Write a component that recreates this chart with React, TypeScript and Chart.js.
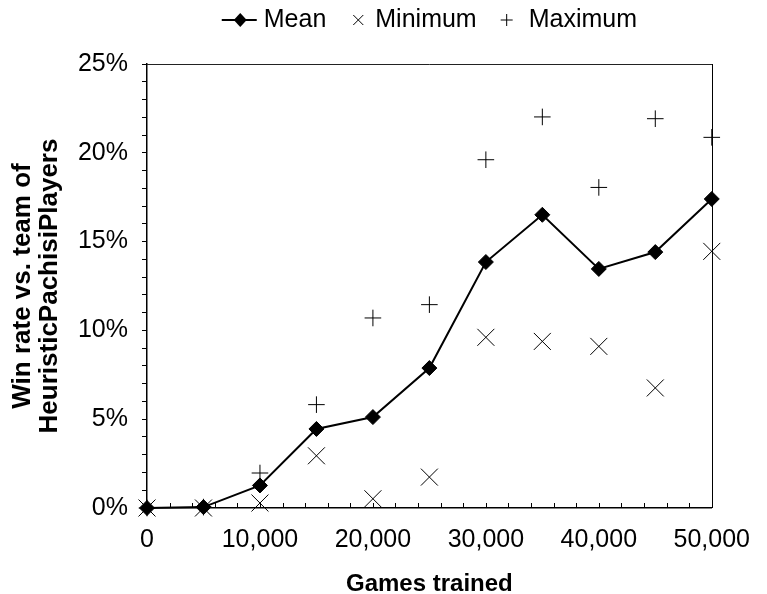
import React, { useEffect, useRef } from 'react';
import { Chart, registerables } from 'chart.js';

Chart.register(...registerables);

const FONT = "'Liberation Sans', Arial, Helvetica, sans-serif";

// ---- data ----
const gamesTrained = [0, 5000, 10000, 15000, 20000, 25000, 30000, 35000, 40000, 45000, 50000];
const meanRate = [0, 0.05, 1.27, 4.45, 5.12, 7.88, 13.85, 16.51, 13.46, 14.41, 17.4];
const minRate = [0, 0, 0.28, 2.94, 0.52, 1.74, 9.61, 9.38, 9.1, 6.76, 14.45];
const maxRate = [0, 0.05, 1.97, 5.82, 10.7, 11.45, 19.61, 22.02, 18.05, 21.92, 20.87];
const seriesNames = ['Mean', 'Minimum', 'Maximum'];
const xTickValues = [0, 10000, 20000, 30000, 40000, 50000];
const xTickLabels = ['0', '10,000', '20,000', '30,000', '40,000', '50,000'];
const yTickValues = [0, 5, 10, 15, 20, 25];
const yTickLabels = ['0%', '5%', '10%', '15%', '20%', '25%'];
const xAxisTitle = 'Games trained';
const yAxisTitle = ['Win rate vs. team of', 'HeuristicPachisiPlayers'];

const toPoints = (ys: number[]) => gamesTrained.map((x, i) => ({ x, y: ys[i] }));

const frameAndTicksPlugin = {
  id: 'frameAndTicks',
  beforeDatasetsDraw(chart: any) {
    const { ctx, chartArea: a, scales } = chart;
    ctx.save();
    ctx.lineWidth = 1;
    ctx.strokeStyle = '#222';
    ctx.beginPath();
    ctx.moveTo(a.left, Math.round(a.top) + 0.5);
    ctx.lineTo(Math.round(a.right) + 0.5, Math.round(a.top) + 0.5);
    ctx.stroke();
    ctx.strokeStyle = '#000';
    ctx.beginPath();
    ctx.moveTo(Math.round(a.right) + 0.5, Math.round(a.top));
    ctx.lineTo(Math.round(a.right) + 0.5, a.bottom);
    ctx.stroke();
    // inward x ticks
    const xs = scales.x;
    ctx.beginPath();
    xs.ticks.forEach((t: any) => {
      const px = Math.round(xs.getPixelForValue(t.value)) + 0.5;
      ctx.moveTo(px, a.bottom);
      ctx.lineTo(px, a.bottom - 5);
    });
    ctx.stroke();
    ctx.restore();
  },
};

const legendPlugin = {
  id: 'customLegend',
  afterDraw(chart: any) {
    const { ctx, chartArea: a } = chart;
    ctx.save();
    ctx.font = `25px ${FONT}`;
    ctx.textBaseline = 'middle';
    ctx.fillStyle = '#000';
    ctx.strokeStyle = '#000';
    const y = 20;
    const wMean = ctx.measureText(seriesNames[0]).width;
    const wMin = ctx.measureText(seriesNames[1]).width;
    const wMax = ctx.measureText(seriesNames[2]).width;
    const total = 35 + 7 + wMean + 27 + 10 + 12 + wMin + 24 + 12 + 16 + wMax;
    let x = (a.left + a.right) / 2 - total / 2;
    // Mean icon: line + diamond
    ctx.lineWidth = 2;
    ctx.beginPath();
    ctx.moveTo(x, y);
    ctx.lineTo(x + 35, y);
    ctx.stroke();
    const dx = x + 18.5;
    ctx.beginPath();
    ctx.moveTo(dx, y - 7);
    ctx.lineTo(dx + 6.5, y);
    ctx.lineTo(dx, y + 7);
    ctx.lineTo(dx - 6.5, y);
    ctx.closePath();
    ctx.fill();
    x += 35 + 7;
    ctx.fillText(seriesNames[0], x, y);
    x += wMean + 27;
    // Minimum icon: x
    ctx.lineWidth = 1;
    ctx.beginPath();
    ctx.moveTo(x, y - 5);
    ctx.lineTo(x + 10, y + 5);
    ctx.moveTo(x + 10, y - 5);
    ctx.lineTo(x, y + 5);
    ctx.stroke();
    x += 10 + 12;
    ctx.fillText(seriesNames[1], x, y);
    x += wMin + 24;
    // Maximum icon: +
    ctx.beginPath();
    ctx.moveTo(x, y);
    ctx.lineTo(x + 12, y);
    ctx.moveTo(x + 6, y - 6);
    ctx.lineTo(x + 6, y + 6);
    ctx.stroke();
    x += 12 + 16;
    ctx.fillText(seriesNames[2], x, y);
    ctx.restore();
  },
};

export default function App() {
  const canvasRef = useRef<HTMLCanvasElement | null>(null);

  useEffect(() => {
    const canvas = canvasRef.current;
    if (!canvas) return;
    const chart = new Chart(canvas, {
      type: 'line',
      data: {
        datasets: [
          {
            label: seriesNames[0],
            data: toPoints(meanRate),
            borderColor: '#000',
            backgroundColor: '#000',
            borderWidth: 2,
            pointStyle: 'rectRot',
            pointRadius: 7.5,
            pointBorderWidth: 1,
            pointBackgroundColor: '#000',
            pointBorderColor: '#000',
            tension: 0,
            clip: false,
          } as any,
          {
            label: seriesNames[1],
            data: toPoints(minRate),
            showLine: false,
            borderColor: '#000',
            backgroundColor: '#000',
            pointStyle: 'crossRot',
            pointRadius: 12,
            pointBorderWidth: 1,
            pointBorderColor: '#000',
            clip: false,
          } as any,
          {
            label: seriesNames[2],
            data: toPoints(maxRate),
            showLine: false,
            borderColor: '#000',
            backgroundColor: '#000',
            pointStyle: 'cross',
            pointRadius: 8.3,
            pointBorderWidth: 1,
            pointBorderColor: '#000',
            clip: false,
          } as any,
        ],
      },
      options: {
        responsive: false,
        animation: false,
        devicePixelRatio: 1,
        layout: { padding: { top: 64, right: 43, left: 0, bottom: 0 } },
        plugins: {
          legend: { display: false },
          tooltip: { enabled: false },
        },
        scales: {
          x: {
            type: 'linear',
            min: 0,
            max: 50000,
            afterFit: (s: any) => {
              s.height = 86;
            },
            ticks: {
              stepSize: 2000,
              autoSkip: false,
              maxRotation: 0,
              minRotation: 0,
              padding: 17,
              color: '#000',
              font: { family: FONT, size: 25 },
              callback: (v: any) => {
                const i = xTickValues.indexOf(Number(v));
                return i >= 0 ? xTickLabels[i] : '';
              },
            },
            grid: { drawOnChartArea: false, drawTicks: false, color: '#000' },
            border: { color: '#000', width: 1.5 },
            title: {
              display: true,
              text: xAxisTitle,
              color: '#000',
              font: { family: FONT, size: 24, weight: 'bold', lineHeight: 1.0 },
              padding: { top: 0, bottom: -2 },
            },
          },
          y: {
            type: 'linear',
            min: 0,
            max: 25,
            afterFit: (s: any) => {
              s.width = 147;
            },
            ticks: {
              stepSize: 1,
              autoSkip: false,
              padding: 14,
              color: '#000',
              font: { family: FONT, size: 25 },
              callback: (v: any) => {
                const i = yTickValues.indexOf(Number(v));
                return i >= 0 ? yTickLabels[i] : '';
              },
            },
            grid: { drawOnChartArea: false, drawTicks: true, tickLength: 5, color: '#000', lineWidth: 1 },
            border: { color: '#000', width: 1.5 },
            title: {
              display: true,
              text: yAxisTitle,
              color: '#000',
              font: { family: FONT, size: 26, weight: 'bold', lineHeight: 1.04 },
              padding: { top: 9.5, bottom: 0 },
            },
          },
        },
      },
      plugins: [frameAndTicksPlugin, legendPlugin],
    } as any);
    return () => chart.destroy();
  }, []);

  return (
    <div style={{ position: 'absolute', left: 0, top: 0, width: 767, height: 594, background: '#fff' }}>
      <canvas ref={canvasRef} width={767} height={594} style={{ display: 'block', width: 767, height: 594 }} />
    </div>
  );
}
